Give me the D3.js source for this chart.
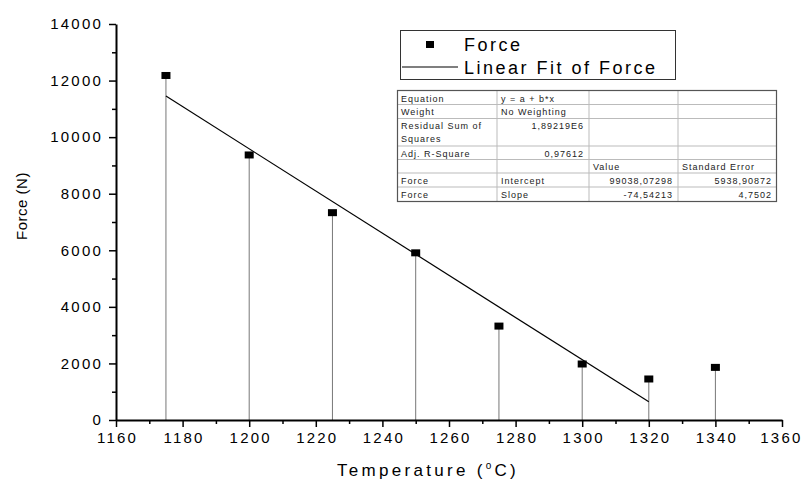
<!DOCTYPE html>
<html>
<head>
<meta charset="utf-8">
<script src="https://cdn.jsdelivr.net/npm/d3@7"></script>
<style>
  body { margin: 0; background: #fff; }
  svg { display: block; font-family: "Liberation Sans", Arial, sans-serif; }
</style>
</head>
<body>
<div id="chart"></div>
<script>
const temps = [1175, 1200, 1225, 1250, 1275, 1300, 1320, 1340];
const forces = [12180, 9370, 7330, 5910, 3320, 1980, 1450, 1860];

// linear fit reported in the table
const fitRange = [1175, 1320];
const fitCoef = [99038.07298, -74.54213]; // intercept, slope

const xTicks = [1160, 1180, 1200, 1220, 1240, 1260, 1280, 1300, 1320, 1340, 1360];
const yTicks = [0, 2000, 4000, 6000, 8000, 10000, 12000, 14000];

const tableRows = [
  ["Equation", "y = a + b*x", "", ""],
  ["Weight", "No Weighting", "", ""],
  ["Residual Sum of|Squares", "1,89219E6", "", ""],
  ["Adj. R-Square", "0,97612", "", ""],
  ["", "", "Value", "Standard Error"],
  ["Force", "Intercept", "99038,07298", "5938,90872"],
  ["Force", "Slope", "-74,54213", "4,7502"]
];

const width = 804, height = 483;
const margin = { top: 24, right: 22, bottom: 63, left: 116 };

const svg = d3.select("#chart").append("svg")
  .attr("width", width)
  .attr("height", height);

const x = d3.scaleLinear().domain([1160, 1360]).range([margin.left, width - margin.right]);
const y = d3.scaleLinear().domain([0, 14000]).range([height - margin.bottom, margin.top]);

// minor ticks first
const minorX = d3.range(1170, 1360, 20);
const minorY = d3.range(1000, 14000, 2000);

svg.append("g")
  .attr("transform", `translate(0,${y(0)})`)
  .call(d3.axisBottom(x).tickValues(minorX).tickSize(4).tickFormat(""))
  .call(g => g.select(".domain").remove())
  .call(g => g.selectAll("line").attr("stroke-width", 1.5));

svg.append("g")
  .attr("transform", `translate(${x(1160)},0)`)
  .call(d3.axisLeft(y).tickValues(minorY).tickSize(4).tickFormat(""))
  .call(g => g.select(".domain").remove())
  .call(g => g.selectAll("line").attr("stroke-width", 1.5));

// drop lines
svg.append("g").selectAll("line")
  .data(temps)
  .join("line")
  .attr("x1", d => x(d)).attr("x2", d => x(d))
  .attr("y1", (d, i) => y(forces[i])).attr("y2", y(0))
  .attr("stroke", "#777").attr("stroke-width", 1);

// fit line
svg.append("line")
  .attr("x1", x(fitRange[0])).attr("y1", y(fitCoef[0] + fitCoef[1] * fitRange[0]))
  .attr("x2", x(fitRange[1])).attr("y2", y(fitCoef[0] + fitCoef[1] * fitRange[1]))
  .attr("stroke", "#000").attr("stroke-width", 1.2);

// points
svg.append("g").selectAll("rect")
  .data(temps)
  .join("rect")
  .attr("x", d => x(d) - 4.5)
  .attr("y", (d, i) => y(forces[i]) - 3.5)
  .attr("width", 9).attr("height", 7)
  .attr("fill", "#000");

// main axes
const fmt = d3.format("d");
const xAxis = svg.append("g")
  .attr("transform", `translate(0,${y(0)})`)
  .call(d3.axisBottom(x).tickValues(xTicks).tickFormat(fmt).tickSize(7).tickSizeOuter(0).tickPadding(5));
const yAxis = svg.append("g")
  .attr("transform", `translate(${x(1160)},0)`)
  .call(d3.axisLeft(y).tickValues(yTicks).tickFormat(fmt).tickSize(7).tickSizeOuter(0).tickPadding(8));

[xAxis, yAxis].forEach(ax => {
  ax.select(".domain").attr("stroke-width", 2);
  ax.selectAll(".tick line").attr("stroke-width", 1.5);
  ax.selectAll("text")
    .attr("font-family", "'Liberation Sans', Arial, sans-serif")
    .attr("font-size", 15)
    .attr("letter-spacing", 2.2)
    .attr("fill", "#000");
});
xAxis.selectAll("text").attr("dx", 1);
yAxis.selectAll("text").attr("dx", 2);
// last x label sits against the right edge
xAxis.selectAll(".tick text").filter(d => d === 1360).attr("text-anchor", "end").attr("dx", 20);

// axis titles
svg.append("text")
  .attr("transform", `translate(27,206) rotate(-90)`)
  .attr("text-anchor", "middle")
  .attr("font-size", 15)
  .attr("letter-spacing", 0.5)
  .text("Force (N)");

const xt = svg.append("text")
  .attr("x", 428).attr("y", 476)
  .attr("text-anchor", "middle")
  .attr("font-size", 17)
  .attr("letter-spacing", 3.3);
xt.append("tspan").text("Temperature (");
xt.append("tspan").attr("font-size", 10).attr("dy", -7).text("o");
xt.append("tspan").attr("dy", 7).text("C)");

// legend
const leg = svg.append("g");
leg.append("rect")
  .attr("x", 400.5).attr("y", 30.5).attr("width", 275).attr("height", 49)
  .attr("fill", "#fff").attr("stroke", "#333").attr("stroke-width", 1);
leg.append("rect").attr("x", 426).attr("y", 41).attr("width", 8).attr("height", 7).attr("fill", "#000");
leg.append("line").attr("x1", 402).attr("x2", 458).attr("y1", 67).attr("y2", 67)
  .attr("stroke", "#000").attr("stroke-width", 1.2);
leg.append("text").attr("x", 464).attr("y", 51).attr("font-size", 18).attr("letter-spacing", 2.5).text("Force");
leg.append("text").attr("x", 464).attr("y", 74).attr("font-size", 18).attr("letter-spacing", 2.5).text("Linear Fit of Force");

// fit results table
const colX = [397, 497, 589, 678, 777];
const rowY = [90, 104.5, 118.5, 146, 159.5, 173, 187, 202];
const tbl = svg.append("g");
tbl.append("rect")
  .attr("x", colX[0]).attr("y", rowY[0])
  .attr("width", colX[4] - colX[0]).attr("height", rowY[7] - rowY[0])
  .attr("fill", "#fff");
tbl.selectAll("line.h")
  .data(rowY.slice(1, -1))
  .join("line")
  .attr("x1", colX[0]).attr("x2", colX[4])
  .attr("y1", d => d).attr("y2", d => d)
  .attr("stroke", "#bbb").attr("stroke-width", 1);
tbl.selectAll("line.v")
  .data(colX.slice(1, -1))
  .join("line")
  .attr("x1", d => d).attr("x2", d => d)
  .attr("y1", rowY[0]).attr("y2", rowY[7])
  .attr("stroke", "#bbb").attr("stroke-width", 1);
tbl.append("rect")
  .attr("x", colX[0] + 0.5).attr("y", rowY[0] + 0.5)
  .attr("width", colX[4] - colX[0] - 1).attr("height", rowY[7] - rowY[0] - 1)
  .attr("fill", "none").attr("stroke", "#555").attr("stroke-width", 1.2);

const baselines = [101.5, 115, 128.5, 156.5, 170, 184, 198];
// which cells are right aligned (numbers)
const rightAlign = (r, c) => (c === 1 && (r === 2 || r === 3)) || (c >= 2 && r >= 5);
tableRows.forEach((row, r) => {
  row.forEach((cell, c) => {
    if (!cell) return;
    const lines = cell.split("|");
    const ra = rightAlign(r, c);
    const t = tbl.append("text")
      .attr("font-size", 9)
      .attr("letter-spacing", 1)
      .attr("fill", "#222")
      .attr("text-anchor", ra ? "end" : "start");
    lines.forEach((ln, k) => {
      t.append("tspan")
        .attr("x", ra ? colX[c + 1] - 5 : colX[c] + 4)
        .attr("y", baselines[r] + k * 13.5)
        .text(ln);
    });
  });
});
</script>
</body>
</html>
